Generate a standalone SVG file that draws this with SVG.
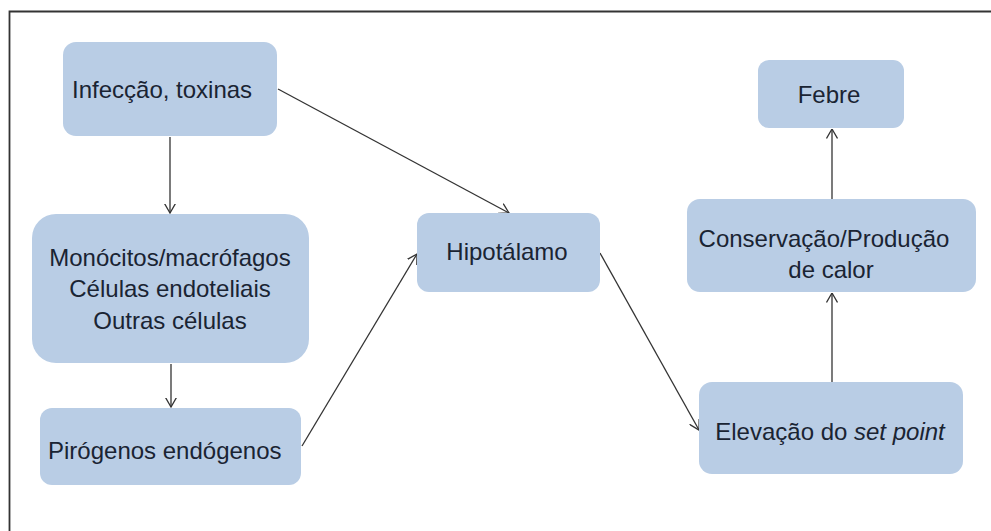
<svg xmlns="http://www.w3.org/2000/svg" width="991" height="531" viewBox="0 0 991 531">
<style>
.box{fill:#b9cde5;}
.t{font-family:"Liberation Sans",Arial,sans-serif;font-size:24px;fill:#1a2433;}
.c{text-anchor:middle;}
.ln{stroke:#333;stroke-width:1.3;fill:none;marker-end:url(#ah);}
</style>
<defs>
<marker id="ah" viewBox="0 0 10 12" refX="9.5" refY="6" markerWidth="10" markerHeight="12" markerUnits="userSpaceOnUse" orient="auto">
<path d="M0,0.5 L9.5,6 L0,11.5" fill="none" stroke="#333" stroke-width="1.3"/>
</marker>
</defs>
<rect width="991" height="531" fill="#fff"/>
<path d="M9.5,531 V11.5 H991" fill="none" stroke="#333" stroke-width="1.8"/>
<g id="connectors">
<line class="ln" x1="170" y1="137" x2="170" y2="213"/>
<line class="ln" x1="171" y1="364" x2="171" y2="407"/>
<line class="ln" x1="278" y1="89" x2="509" y2="213"/>
<line class="ln" x1="302" y1="446" x2="417" y2="254"/>
<line class="ln" x1="600" y1="253" x2="699" y2="430"/>
<line class="ln" x1="832" y1="382" x2="832" y2="293"/>
<line class="ln" x1="832" y1="199" x2="832" y2="129"/>
</g>
<g id="infeccao">
<rect class="box" x="63" y="42" width="214" height="94" rx="13"/>
<text class="t" x="72" y="98">Infecção, toxinas</text>
</g>
<g id="monocitos">
<rect class="box" x="32" y="214" width="277" height="149" rx="24"/>
<text class="t c" x="170" y="266">Monócitos/macrófagos</text>
<text class="t c" x="170" y="297">Células endoteliais</text>
<text class="t c" x="170" y="329">Outras células</text>
</g>
<g id="pirogenos">
<rect class="box" x="40" y="408" width="261" height="77" rx="12"/>
<text class="t" x="48" y="459">Pirógenos endógenos</text>
</g>
<g id="hipotalamo">
<rect class="box" x="417" y="213" width="183" height="79" rx="12"/>
<text class="t c" x="507" y="260">Hipotálamo</text>
</g>
<g id="elevacao">
<rect class="box" x="699" y="382" width="264" height="92" rx="13"/>
<text class="t c" x="830" y="440">Elevação do <tspan font-style="italic">set point</tspan></text>
</g>
<g id="conservacao">
<rect class="box" x="687" y="199" width="289" height="93" rx="13"/>
<text class="t c" x="824" y="247">Conservação/Produção</text>
<text class="t c" x="831" y="278">de calor</text>
</g>
<g id="febre">
<rect class="box" x="758" y="60" width="146" height="68" rx="11"/>
<text class="t c" x="829" y="103">Febre</text>
</g>
</svg>
